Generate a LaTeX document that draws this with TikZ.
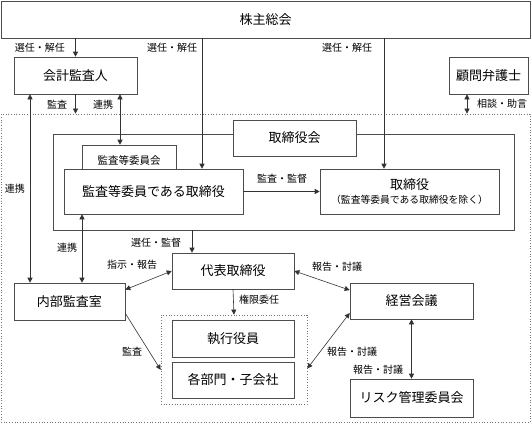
\documentclass[tikz,border=0pt]{standalone}
\usepackage{fontspec}
\setmainfont{Noto Sans CJK JP}
\usepackage{tikz}
\usetikzlibrary{arrows.meta}

\begin{document}
\begin{tikzpicture}[x=1pt,y=-1pt,
							every node/.style={inner sep=0pt},
							box/.style={draw=black!70,line width=0.6pt,fill=white,font=\fontsize{13}{15}\selectfont},
							smallbox/.style={box,font=\fontsize{10.5}{12}\selectfont},
							area/.style={draw=black!55,dotted,line width=0.7pt},
							lbl/.style={font=\fontsize{10}{12}\selectfont},
							link/.style={draw=black!80,line width=0.6pt,-{Triangle[length=5pt,width=5pt]}},
							both/.style={link,{Triangle[length=5pt,width=5pt]}-{Triangle[length=5pt,width=5pt]}},]
			\useasboundingbox (0,0) rectangle (531,423);

			\node[box,minimum width=529,minimum height=37] (soukai) at (265.5,19.5) {株主総会};
			\node[box,minimum width=123,minimum height=37] (kaikei) at (75.5,75.5) {会計監査人};
			\node[box,minimum width=79,minimum height=37] (bengo) at (488.5,75.5) {顧問弁護士};
			\node[area,minimum width=529,minimum height=308] (kaisha) at (265.5,268) {};

			\node[box,minimum width=461,minimum height=96] (torikai) at (283.5,182) {};
			\node[box,minimum width=123,minimum height=36] (torikaiT) at (294.5,138) {取締役会};
			\node[smallbox,minimum width=94,minimum height=30] (iinkai) at (129,160) {};
			\node[font=\fontsize{10.5}{12}\selectfont] at (129,160) {監査等委員会};
			\node[box,minimum width=179,minimum height=45] (kansatori) at (153.5,191.5) {監査等委員である取締役};
			\node[box,minimum width=179,minimum height=45,align=center] (tori) at (409.5,191.5)
				{取締役\\[-1pt]{\fontsize{9.8}{12}\selectfont （監査等委員である取締役を除く）}};

			\node[box,minimum width=122,minimum height=36] (daihyo) at (233,271) {代表取締役};
			\node[box,minimum width=111,minimum height=37] (naibu) at (69.5,301.5) {内部監査室};
			\node[area,minimum width=146,minimum height=89] (shikkou) at (234,359.5) {};
			\node[box,minimum width=122,minimum height=37] (yakuin) at (233,338.5) {執行役員};
			\node[box,minimum width=122,minimum height=36] (bumon) at (233,380) {各部門・子会社};
			\node[box,minimum width=123,minimum height=36] (keiei) at (411.5,301) {経営会議};
			\node[box,minimum width=123,minimum height=38] (risk) at (411.5,398) {リスク管理委員会};

			\coordinate (xrenkei) at (30,0);
			\coordinate (xiinkai) at (120,0);
			\coordinate (xkansa) at (82,0);
			\coordinate (xkansatori) at (202,0);
			\coordinate (xtori) at (384,0);
			\coordinate (xdaihyo) at (192,0);
			\coordinate (xbengo) at (467,0);

			\draw[link] (soukai.south -| kaikei.north) -- (kaikei.north);
			\draw[link] (soukai.south -| xkansatori) -- (kansatori.north -| xkansatori);
			\draw[link] (soukai.south -| xtori) -- (tori.north -| xtori);
			\draw[link] (kaikei.south) -- (kaisha.north -| kaikei.south);
			\draw[both] (kaikei.south -| xrenkei) -- (naibu.north -| xrenkei);
			\draw[both] (kaikei.south -| xiinkai) -- (iinkai.north -| xiinkai);
			\draw[both] (bengo.south -| xbengo) -- (kaisha.north -| xbengo);
			\draw[link] (kansatori.east) -- (tori.west);
			\draw[link] (torikai.south -| xdaihyo) -- (daihyo.north -| xdaihyo);
			\draw[both] (kansatori.south -| xkansa) -- (naibu.north -| xkansa);
			\draw[both] (naibu.12) -- (daihyo.west);
			\draw[link] (daihyo.south) -- (shikkou.north);
			\draw[link] (naibu.-12) -- (shikkou.188);
			\draw[both] (daihyo.east) -- (keiei.170);
			\draw[both] (keiei.191) -- (shikkou.-7);
			\draw[both] (keiei.south) -- (risk.north);

			\node[lbl] (l1) at (40,48) {選任・解任};
			\node[lbl] (l2) at (172,48) {選任・解任};
			\node[lbl] (l3) at (347,48) {選任・解任};
			\node[lbl] (l4) at (57,105) {監査};
			\node[lbl] (l5) at (103,105) {連携};
			\node[lbl] (l6) at (502,104) {相談・助言};
			\node[lbl] (l7) at (15,189) {連携};
			\node[lbl] (l8) at (282,179) {監査・監督};
			\node[lbl] (l9) at (156,243) {選任・監督};
			\node[lbl] (l10) at (67,248) {連携};
			\node[lbl] (l11) at (132,265) {指示・報告};
			\node[lbl] (l12) at (337,267) {報告・討議};
			\node[lbl] (l13) at (259,300) {権限委任};
			\node[lbl] (l14) at (132,352) {監査};
			\node[lbl] (l15) at (352,352) {報告・討議};
			\node[lbl] (l16) at (378,370) {報告・討議};
		\end{tikzpicture}
\end{document}
